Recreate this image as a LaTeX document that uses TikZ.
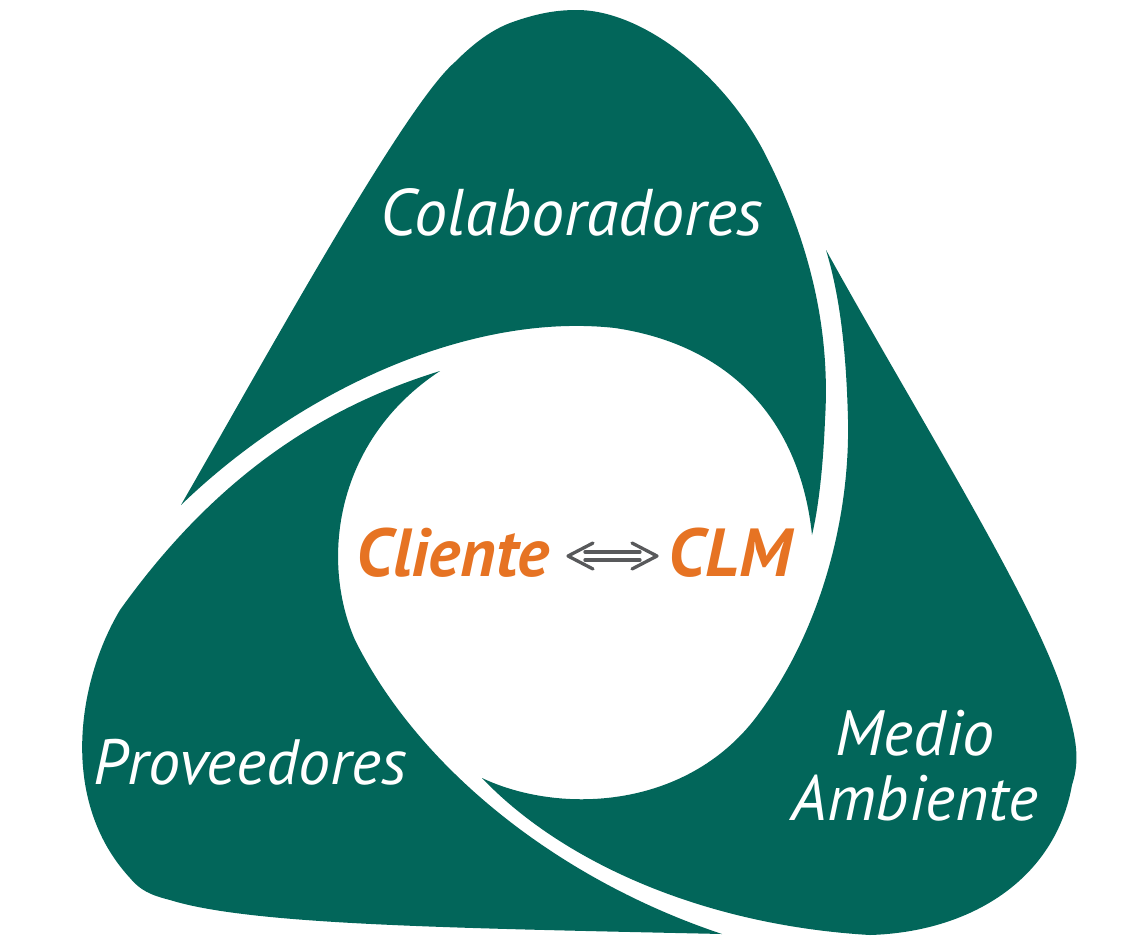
\documentclass[tikz,border=0pt]{standalone}
\usepackage{fontspec}
\setmainfont{PT Sans}
\definecolor{clmgreen}{RGB}{2,102,90}
\definecolor{clmorange}{RGB}{230,115,35}
\definecolor{arrowgray}{RGB}{88,89,91}
\tikzset{
  petal/.style={fill=clmgreen, draw=none},
  lab/.style={text=white, inner sep=0pt, anchor=base, font=\fontsize{64}{70}\selectfont\itshape},
  centerlab/.style={text=clmorange, inner sep=0pt, anchor=base, font=\fontsize{68}{72}\selectfont\bfseries\itshape},
  dbl/.style={draw=arrowgray, line width=3.3pt, line cap=round, line join=round}
}
\begin{document}
\begin{tikzpicture}[x=1pt,y=-1pt]
\useasboundingbox (0,0) rectangle (1134,951);
% Colaboradores petal
\path[petal] (181,505) .. controls (270,350) and (405,105) .. (455,62)
  .. controls (475,42) and (492,30) .. (510,23)
  .. controls (540,12) and (560,10) .. (577,10)
  .. controls (640,10) and (720,70) .. (763,150)
  .. controls (815,250) and (830,340) .. (825,420)
  .. controls (823,470) and (818,510) .. (812,535)
  .. controls (800,420) and (730,345) .. (615,328)
  .. controls (470,312) and (300,390) .. (181,505) -- cycle;
% Proveedores petal
\path[petal] (440,371) .. controls (330,405) and (220,470) .. (120,610)
  .. controls (78,680) and (58,800) .. (130,878)
  .. controls (140,890) and (150,895) .. (170,900)
  .. controls (250,925) and (450,928) .. (722,934)
  .. controls (560,880) and (420,770) .. (355,640)
  .. controls (320,560) and (335,440) .. (440,371) -- cycle;
% Medio Ambiente petal
\path[petal] (826,250) .. controls (920,420) and (1040,610) .. (1065,700)
  .. controls (1077,740) and (1080,760) .. (1072,785)
  .. controls (1055,880) and (970,932) .. (870,935)
  .. controls (700,925) and (560,860) .. (482,778)
  .. controls (560,815) and (690,810) .. (760,712)
  .. controls (820,630) and (850,520) .. (848,420)
  .. controls (846,340) and (838,290) .. (826,250) -- cycle;
% labels
\node[lab, font=\fontsize{66}{72}\selectfont\itshape] (colab) at (572,235) {Colaboradores};
\node[lab] (prov) at (250,784) {Proveedores};
\node[lab] (medio) at (915,755) {Medio};
\node[lab] (amb) at (915,820) {Ambiente};
\node[centerlab] (cliente) at (453,576) {Cliente};
\node[centerlab] (clm) at (730,576) {CLM};
% double arrow
\coordinate (la) at (568,556);
\coordinate (ra) at (657,556);
\draw[dbl] (593,543) -- (la) -- (593,569);
\draw[dbl] (632,543) -- (ra) -- (632,569);
\draw[dbl] (585,552) -- (640,552);
\draw[dbl] (585,560) -- (640,560);
\end{tikzpicture}
\end{document}
